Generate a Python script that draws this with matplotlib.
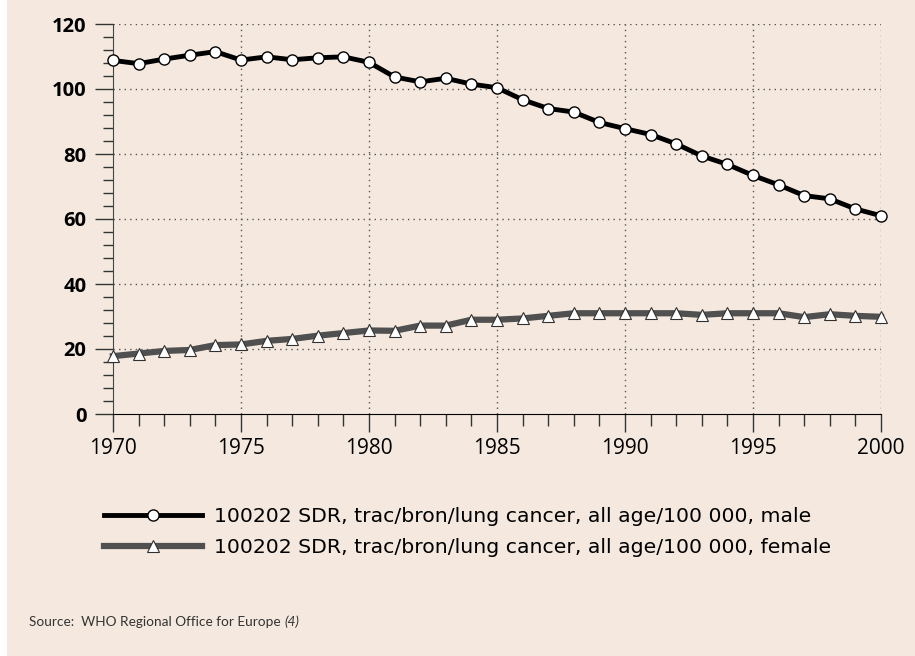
import matplotlib
matplotlib.use('Agg')
import matplotlib.pyplot as plt
from matplotlib.patches import Rectangle
from matplotlib.ticker import MultipleLocator

# Data
years = list(range(1970, 2001))
male = [108.8, 107.8, 109.2, 110.4, 111.5, 108.9, 109.9, 109.0, 109.6, 109.9,
        108.2, 103.7, 102.2, 103.3, 101.5, 100.4, 96.7, 94.0, 92.9, 89.7,
        87.8, 86.0, 83.1, 79.4, 76.8, 73.4, 70.5, 67.2, 66.2, 63.1, 61.0]
female = [17.8, 18.6, 19.4, 19.7, 21.2, 21.4, 22.5, 23.1, 24.1, 24.9,
          25.7, 25.6, 27.2, 27.2, 29.0, 29.0, 29.4, 30.2, 31.0, 31.0,
          31.0, 31.0, 31.0, 30.5, 31.0, 31.0, 31.0, 29.8, 30.7, 30.2, 29.9]
labels = ['100202 SDR, trac/bron/lung cancer, all age/100 000, male',
          '100202 SDR, trac/bron/lung cancer, all age/100 000, female']
source = 'Source:  WHO Regional Office for Europe '
source_ref = '(4)'

BG = '#f5e9df'
W, H = 915, 656

plt.rcParams['font.family'] = ['Open Sans', 'DejaVu Sans']

fig = plt.figure(figsize=(W / 100, H / 100), dpi=100, facecolor='white')
fig.patches.append(Rectangle((7 / W, 0), 1 - 7 / W, 1, transform=fig.transFigure,
                             facecolor=BG, edgecolor='none', zorder=-10))

ax = fig.add_axes([113 / W, (H - 414) / H, (881 - 113) / W, 390 / H])
ax.set_facecolor(BG)
ax.patch.set_alpha(0)

ax.plot(years, female, color='#505050', lw=4.5, marker='^', ms=9,
        mfc='white', mec='#303030', mew=0.8, clip_on=False, zorder=3,
        label=labels[1])
ax.plot(years, male, color='black', lw=3.5, marker='o', ms=8,
        mfc='white', mec='black', mew=1.0, clip_on=False, zorder=4,
        label=labels[0])

ax.set_xlim(1970, 2000)
ax.set_ylim(0, 120)
ax.xaxis.set_major_locator(MultipleLocator(5))
ax.xaxis.set_minor_locator(MultipleLocator(1))
ax.yaxis.set_major_locator(MultipleLocator(20))
ax.yaxis.set_minor_locator(MultipleLocator(4))

for s in ['top', 'right']:
    ax.spines[s].set_visible(False)
ax.spines['left'].set_color('#444444')
ax.spines['bottom'].set_color('black')

ax.tick_params(axis='y', which='major', length=13, width=1, color='#333333',
               labelsize=14.5, pad=6)
ax.tick_params(axis='y', which='minor', length=7, width=1, color='#333333')
ax.tick_params(axis='x', which='major', length=13, width=1, color='#333333',
               labelsize=15, pad=4)
ax.tick_params(axis='x', which='minor', length=8.5, width=1, color='#333333')
for t in ax.get_yticklabels():
    t.set_fontweight('bold')

# dotted grid, skip the lines that sit on the spines
for yv in range(20, 121, 20):
    ax.axhline(yv, color='#555555', lw=1, ls=(0, (1, 3)), zorder=1)
for xv in range(1975, 2001, 5):
    ax.axvline(xv, color='#555555', lw=1, ls=(0, (1, 3)), zorder=1)

handles, labs = ax.get_legend_handles_labels()
fig.legend(handles[::-1], labs[::-1], loc='center left',
           bbox_to_anchor=(104 / W, 1 - 532 / H), frameon=False,
           prop={'family': 'DejaVu Sans', 'size': 14.7},
           handlelength=4.8, handletextpad=0.58,
           labelspacing=0.56, borderpad=0, borderaxespad=0, numpoints=1)

src = fig.text(29 / W, 1 - 622 / H, source, fontsize=9.8, va='center',
               family=['Lato', 'DejaVu Sans'], color='#333333')
ax.annotate(source_ref, xy=(1, 0.5), xycoords=src, va='center', ha='left',
            fontsize=9.8, style='italic', color='#333333',
            family=['Lato', 'DejaVu Sans'], annotation_clip=False)

fig.savefig('out.png', dpi=100, facecolor=fig.get_facecolor())
